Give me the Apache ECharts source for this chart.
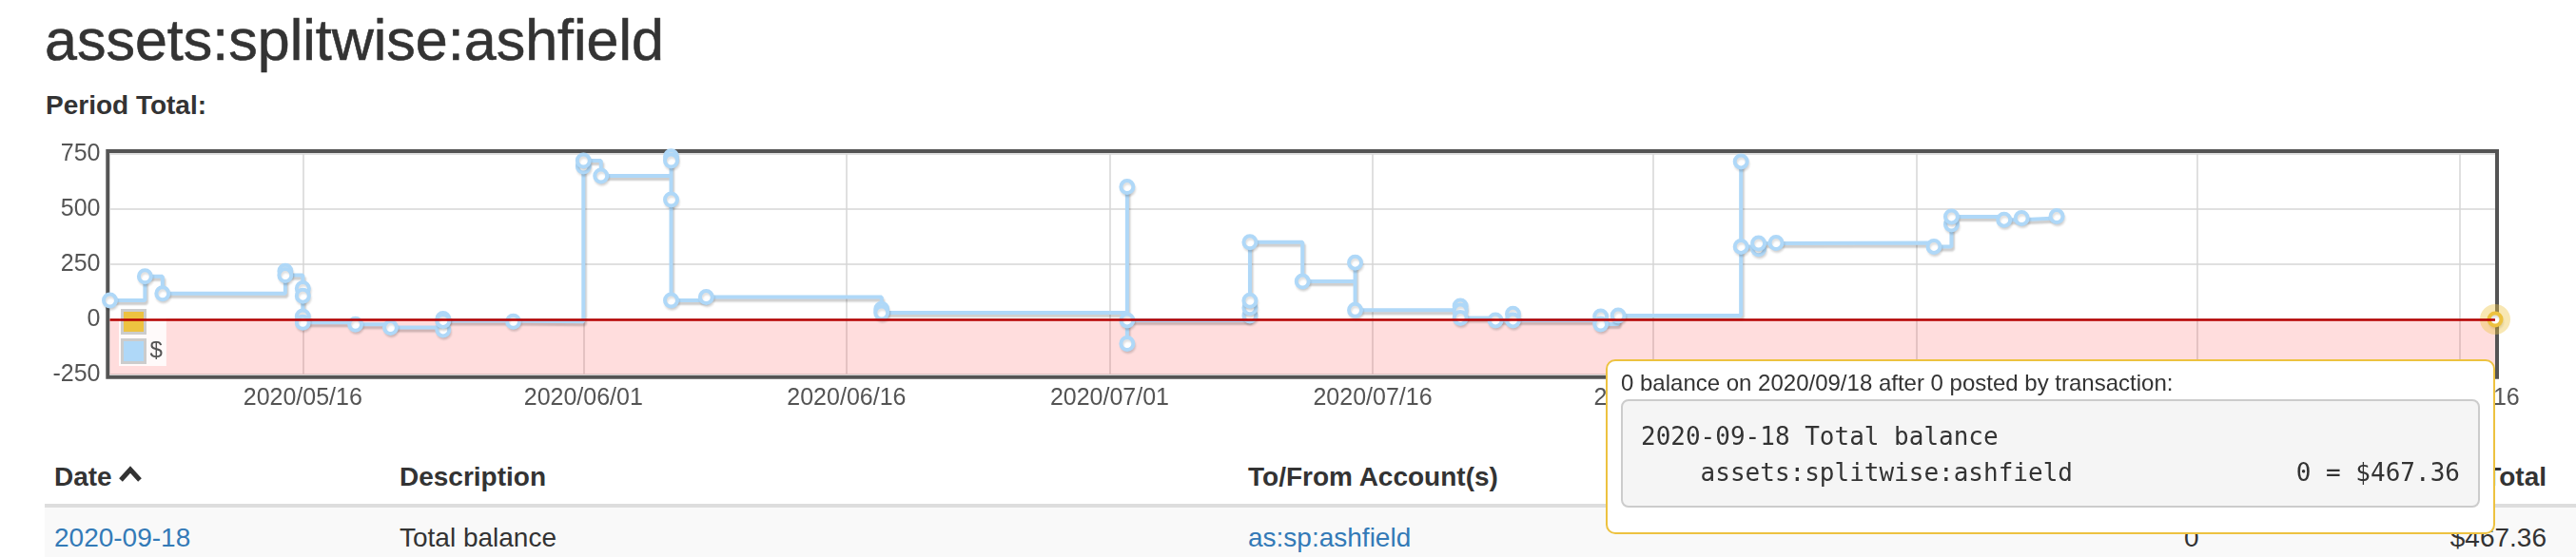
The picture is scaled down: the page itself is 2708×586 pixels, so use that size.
<!DOCTYPE html>
<html><head><meta charset="utf-8">
<script src="https://cdn.jsdelivr.net/npm/echarts@6/dist/echarts.min.js"></script>
<style>
html,body{margin:0;padding:0;width:2708px;height:586px;overflow:hidden;background:#fff;font-family:"Liberation Sans",Arial,sans-serif;color:#333;}
.abs{position:absolute;white-space:nowrap;}
#title{left:47px;top:12px;font-size:61px;line-height:60px;-webkit-text-stroke:0.6px #333;}
#period{left:48px;top:97px;font-size:28px;line-height:28px;font-weight:bold;}
.th{font-size:28px;line-height:28px;font-weight:bold;top:488px;}
.td{font-size:28px;line-height:28px;top:552px;}
.link{color:#337ab7;}
#hdrline{left:47px;top:530px;width:2661px;height:4px;background:#ddd;}
#rowbg{left:47px;top:534px;width:2661px;height:52px;background:#f9f9f9;}
#chart{position:absolute;left:0;top:0;width:2708px;height:586px;}
</style></head>
<body>
<div class="abs" id="title">assets:splitwise:ashfield</div>
<div class="abs" id="period">Period Total:</div>
<div class="abs" id="hdrline"></div>
<div class="abs" id="rowbg"></div>
<div class="abs th" style="left:57px;">Date <svg width="24" height="20" viewBox="0 0 24 20" style="vertical-align:2px"><path d="M2 16 L12 5 L22 16" fill="none" stroke="#333" stroke-width="5"/></svg></div>
<div class="abs th" style="left:420px;">Description</div>
<div class="abs th" style="left:1312px;">To/From Account(s)</div>
<div class="abs th" style="left:2060px;">Change</div>
<div class="abs th" style="right:31px;">Total</div>
<div class="abs td link" style="left:57px;">2020-09-18</div>
<div class="abs td" style="left:420px;">Total balance</div>
<div class="abs td link" style="left:1312px;">as:sp:ashfield</div>
<div class="abs td" style="left:2296px;">0</div>
<div class="abs td" style="right:31px;">$467.36</div>
<div id="chart"></div>
<script>
// ---- data ----
const xRange = ['2020-05-05', '2020-09-18'];
const xTickDates = ['2020-05-16','2020-06-01','2020-06-16','2020-07-01','2020-07-16','2020-08-01','2020-08-16','2020-09-01','2020-09-16'];
const yTicks = [-250, 0, 250, 500, 750];
const seriesNames = [' ', '$'];
const blueDates = [
 '2020-05-05','2020-05-07','2020-05-08','2020-05-15','2020-05-15',
 '2020-05-16','2020-05-16','2020-05-16','2020-05-16',
 '2020-05-19','2020-05-21','2020-05-24','2020-05-24','2020-05-24','2020-05-28',
 '2020-06-01','2020-06-01','2020-06-02',
 '2020-06-06','2020-06-06','2020-06-06','2020-06-06',
 '2020-06-08','2020-06-18','2020-06-18',
 '2020-07-02','2020-07-02','2020-07-02',
 '2020-07-09','2020-07-09','2020-07-09','2020-07-09',
 '2020-07-12','2020-07-15','2020-07-15',
 '2020-07-21','2020-07-21','2020-07-21',
 '2020-07-23','2020-07-24','2020-07-24',
 '2020-07-29','2020-07-29','2020-07-30',
 '2020-08-06','2020-08-06','2020-08-07','2020-08-07','2020-08-08',
 '2020-08-17','2020-08-18','2020-08-18','2020-08-21','2020-08-22','2020-08-24'
];
const blueValues = [
 86, 195, 117, 219, 200,
 140, 107, 13, -14,
 -23, -37, 2, -47, -6, -10,
 694, 720, 651,
 738, 720, 543, 86,
 101, 46, 30,
 601, -110, -4,
 17, 53, 85, 350,
 172, 258, 42,
 60, 39, 7,
 -4, 25, -4,
 13, -22, 17,
 716, 330, 320, 345, 347,
 330, 431, 466, 452, 459, 467.36
];
const yellowDates = ['2020-09-18'];
const yellowValues = [0];
const tipHeader = '0 balance on 2020/09/18 after 0 posted by transaction:';
const tipLines = ['2020-09-18 Total balance', '    assets:splitwise:ashfield               0 = $467.36'];

// ---- helpers ----
function ts(s){ const p = s.split('-').map(Number); return Date.UTC(p[0], p[1]-1, p[2]); }
function fmt(v){ const d = new Date(v); const pad = n => (n<10?'0':'')+n; return d.getUTCFullYear()+'/'+pad(d.getUTCMonth()+1)+'/'+pad(d.getUTCDate()); }
const blueData = blueDates.map((d,i)=>[ts(d), blueValues[i]]);
const yellowData = yellowDates.map((d,i)=>[ts(d), yellowValues[i]]);
const yMin = yTicks[0], yMax = yTicks[yTicks.length-1], yStep = yTicks[1]-yTicks[0];
const gridColor = '#d6d6d6';
const lineShadow = {shadowColor:'rgba(0,0,0,0.2)', shadowBlur:2, shadowOffsetX:1.5, shadowOffsetY:3};
const pointShadow = {shadowColor:'rgba(0,0,0,0.12)', shadowBlur:2, shadowOffsetX:1, shadowOffsetY:2.5};

const chart = echarts.init(document.getElementById('chart'), null, {renderer:'canvas'});
chart.setOption({
  animation:false,
  backgroundColor:'transparent',
  textStyle:{fontFamily:'Liberation Sans'},
  grid:[
    {left:115.5, right:85, top:162, bottom:192, show:false},
    {left:113.3, right:83, top:159, bottom:189.3, show:true, borderColor:'#545454', borderWidth:4, backgroundColor:'transparent'}
  ],
  xAxis:[
    {type:'value', gridIndex:0, min:ts(xRange[0]), max:ts(xRange[1]),
     axisLine:{show:false},
     axisTick:{show:false, customValues:xTickDates.map(ts)},
     axisLabel:{customValues:xTickDates.map(ts), formatter:fmt, fontSize:25, color:'#545454', margin:13, fontFamily:'Liberation Sans'},
     splitLine:{show:true, lineStyle:{color:gridColor, width:1.5}}},
    {type:'value', gridIndex:1, show:false, min:0, max:1}
  ],
  yAxis:[
    {type:'value', gridIndex:0, min:yMin, max:yMax, interval:yStep,
     axisLine:{show:false}, axisTick:{show:false},
     axisLabel:{fontSize:25, color:'#545454', margin:10, fontFamily:'Liberation Sans'},
     splitLine:{show:true, lineStyle:{color:gridColor, width:1.5}}},
    {type:'value', gridIndex:1, show:false, min:0, max:1}
  ],
  legend:{
    orient:'vertical', left:125, top:323, padding:[2,4,2,2], itemGap:4,
    backgroundColor:'rgba(255,255,255,0.85)',
    icon:'rect', itemWidth:24, itemHeight:24, itemStyle:{borderColor:'#cccccc', borderWidth:3},
    textStyle:{fontSize:24, color:'#545454', lineHeight:27, fontFamily:'Liberation Sans'},
    formatter:n => n.trim(),
    selectedMode:false,
    data:[{name:seriesNames[0], itemStyle:{color:'#edc240', borderColor:'#ccc', borderWidth:3}},
          {name:seriesNames[1], itemStyle:{color:'#afd8f8', borderColor:'#ccc', borderWidth:3}}]
  },
  tooltip:{
    trigger:'item', triggerOn:'none', alwaysShowContent:true, showDelay:0, transitionDuration:0,
    backgroundColor:'#fff', borderColor:'#edc240', borderWidth:2, padding:[8,14,26,14],
    extraCssText:'border-radius:10px;box-shadow:none;',
    position:(pt, params, dom, rect, size) => [pt[0] - size.contentSize[0], pt[1] + 41.5],
    formatter:() => '<div style="font:24px/30px \'Liberation Sans\',Arial,sans-serif;color:#333;">' + tipHeader + '</div>' +
      '<pre style="box-sizing:border-box;width:903px;margin:2px 0 0 0;padding:18px 18px 16px 19px;background:#f5f5f5;border:2px solid #ccc;border-radius:8px;font:26px/38px \'DejaVu Sans Mono\',monospace;color:#333;white-space:pre;">' + tipLines.join('\n') + '</pre>'
  },
  series:[
    {name:seriesNames[0], type:'line', xAxisIndex:0, yAxisIndex:0, data:yellowData, step:'end', z:2,
     symbol:'circle', symbolSize:13, showSymbol:true, clip:false, emphasis:{disabled:true},
     lineStyle:Object.assign({color:'#edc240', width:4}, lineShadow),
     itemStyle:Object.assign({color:'#fff', borderColor:'#edc240', borderWidth:4}, pointShadow),
     markArea:{silent:true, itemStyle:{color:'rgba(255,0,0,0.135)'}, data:[[{yAxis:yMin},{yAxis:0}]]},
     markLine:{silent:true, symbol:'none', label:{show:false}, lineStyle:{color:'#b50000', width:2.5, type:'solid'}, data:[{yAxis:0}]}
    },
    {name:seriesNames[1], type:'line', xAxisIndex:0, yAxisIndex:0, data:blueData, step:'end', z:3,
     symbol:'circle', symbolSize:13, showSymbol:true, clip:false, emphasis:{disabled:true}, tooltip:{show:false},
     lineStyle:Object.assign({color:'#afd8f8', width:4}, lineShadow),
     itemStyle:Object.assign({color:'#fff', borderColor:'#afd8f8', borderWidth:4}, pointShadow)
    },
    {name:'highlight', type:'scatter', xAxisIndex:0, yAxisIndex:0, data:yellowData, z:4, silent:true, tooltip:{show:false},
     symbol:'circle', symbolSize:24, itemStyle:{color:'rgba(0,0,0,0)', borderColor:'rgba(237,194,64,0.5)', borderWidth:8}}
  ]
});
chart.dispatchAction({type:'showTip', seriesIndex:0, dataIndex:0});
</script>
</body></html>
